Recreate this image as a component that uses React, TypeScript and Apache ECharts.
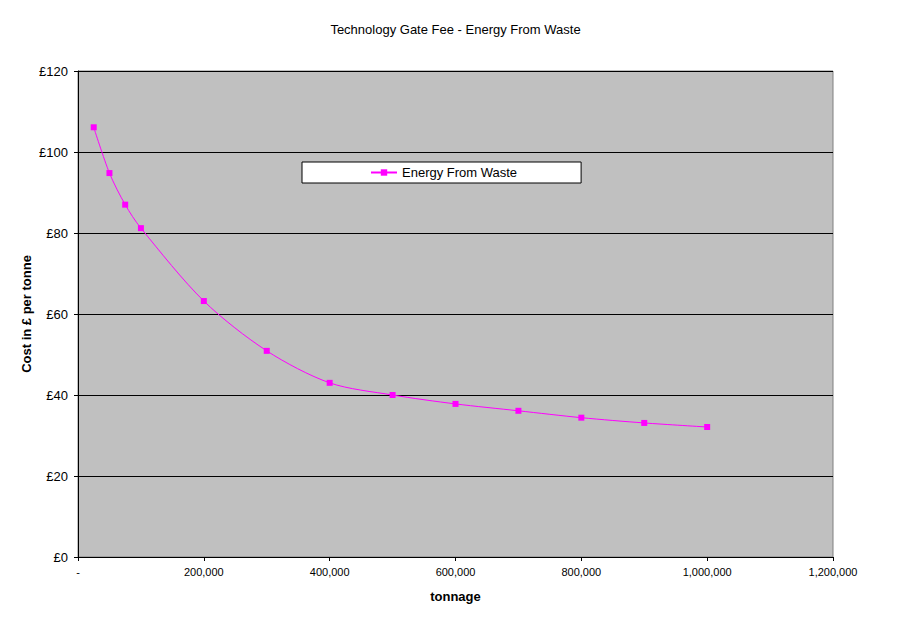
import React, { useEffect, useRef } from "react";
import * as echarts from "echarts";

const tonnage = [25000, 50000, 75000, 100000, 200000, 300000, 400000, 500000, 600000, 700000, 800000, 900000, 1000000];
const cost = [106.1, 94.8, 87.0, 81.2, 63.2, 50.9, 43.0, 40.0, 37.8, 36.1, 34.4, 33.1, 32.1];
const seriesName = "Energy From Waste";
const chartTitle = "Technology Gate Fee - Energy From Waste";
const xTitle = "tonnage";
const yTitle = "Cost in £ per tonne";

const FONT = "'Liberation Sans', Arial, sans-serif";

export default function App() {
  const ref = useRef<HTMLDivElement>(null);
  useEffect(() => {
    if (!ref.current) return;
    const chart = echarts.init(ref.current, null, { renderer: "svg" });
    chart.setOption({
      animation: false,
      backgroundColor: "#ffffff",
      textStyle: { fontFamily: FONT },
      title: {
        text: chartTitle,
        left: "center",
        top: 18,
        textStyle: { fontSize: 13, fontWeight: "normal", color: "#000", fontFamily: FONT },
      },
      legend: {
        left: 302,
        top: 162,
        backgroundColor: "#ffffff",
        borderColor: "#000000",
        borderWidth: 1,
        padding: [3, 64, 3, 68],
        itemWidth: 26,
        itemHeight: 8,
        itemGap: 5,
        textStyle: { fontSize: 13, color: "#000", fontFamily: FONT, lineHeight: 15 },
        data: [seriesName],
      },
      grid: {
        left: 78,
        top: 71,
        right: 78,
        bottom: 66,
        show: true,
        backgroundColor: "#C0C0C0",
        borderColor: "#808080",
        borderWidth: 1,
        containLabel: false,
      },
      xAxis: {
        type: "value",
        min: 0,
        max: 1200000,
        interval: 200000,
        name: xTitle,
        nameLocation: "middle",
        nameGap: 33,
        nameMoveOverlap: false,
        nameTextStyle: { fontSize: 13, fontWeight: "bold", color: "#000", fontFamily: FONT },
        axisLine: { show: true, lineStyle: { color: "#000", width: 1 } },
        axisTick: { show: true, inside: false, length: 4, lineStyle: { color: "#000" } },
        axisLabel: {
          fontSize: 11,
          color: "#000",
          margin: 9,
          formatter: (v: number) => (v === 0 ? "-" : v.toLocaleString("en-US")),
        },
        splitLine: { show: false },
      },
      yAxis: {
        type: "value",
        min: 0,
        max: 120,
        interval: 20,
        name: yTitle,
        nameLocation: "middle",
        nameRotate: 90,
        nameGap: 45,
        nameMoveOverlap: false,
        nameTextStyle: { fontSize: 13, fontWeight: "bold", color: "#000", fontFamily: FONT },
        axisLine: { show: true, lineStyle: { color: "#000", width: 1 } },
        axisTick: { show: true, inside: false, length: 4, lineStyle: { color: "#000" } },
        axisLabel: {
          fontSize: 13,
          color: "#000",
          margin: 10,
          formatter: (v: number) => "£" + v,
        },
        splitLine: { show: true, lineStyle: { color: "#000", width: 1 } },
      },
      series: [
        {
          name: seriesName,
          type: "line",
          data: tonnage.map((t, i) => [t, cost[i]]),
          smooth: 0.3,
          symbol: "rect",
          symbolSize: 6,
          lineStyle: { color: "#FF00FF", width: 1 },
          itemStyle: { color: "#FF00FF" },
        },
      ],
    });
    return () => chart.dispose();
  }, []);
  return (
    <div
      ref={ref}
      style={{ position: "fixed", left: 0, top: 0, width: 911, height: 623 }}
    />
  );
}
